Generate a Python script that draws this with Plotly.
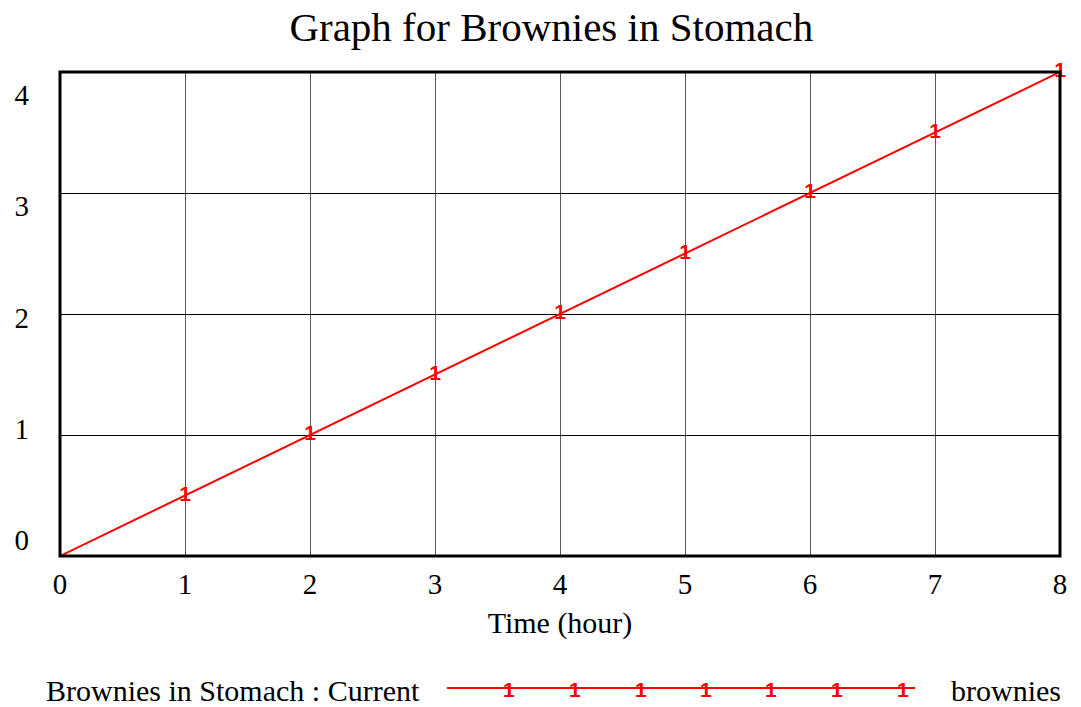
import plotly.graph_objects as go

# Stock values over the simulation run
time_hours = [0, 1, 2, 3, 4, 5, 6, 7, 8]
brownies_current = [0, 0.5, 1, 1.5, 2, 2.5, 3, 3.5, 4]

x_ticks = [0, 1, 2, 3, 4, 5, 6, 7, 8]
y_ticks = [0, 1, 2, 3, 4]

series_name = "Brownies in Stomach : Current"
series_units = "brownies"
marker_label = "1"

SERIF = "Liberation Serif"
SANS = "Liberation Sans"
RED = "#ff0000"

# the series tag is drawn on every point after the starting one
point_tags = [""] + [marker_label] * (len(time_hours) - 1)

fig = go.Figure()

fig.add_trace(go.Scatter(
    x=time_hours,
    y=brownies_current,
    mode="lines+text",
    line=dict(color=RED, width=2),
    text=point_tags,
    textposition="middle center",
    textfont=dict(family=SANS, size=21, color=RED, weight="bold"),
    cliponaxis=False,
    hoverinfo="x+y",
    showlegend=False,
))

# invisible companion trace carrying the offset value labels on the left
fig.add_trace(go.Scatter(
    x=time_hours,
    y=brownies_current,
    yaxis="y2",
    mode="lines",
    line=dict(width=0),
    opacity=0,
    hoverinfo="skip",
    showlegend=False,
))

fig.update_layout(
    width=1081,
    height=707,
    margin=dict(l=60, r=21, t=72, b=151),
    paper_bgcolor="white",
    plot_bgcolor="white",
    font=dict(family=SERIF, color="black"),
    title=dict(
        text="Graph for Brownies in Stomach",
        x=0.51, xanchor="center",
        y=0.962, yanchor="middle",
        font=dict(family=SERIF, size=41, color="black"),
    ),
    xaxis=dict(
        range=[0, 8],
        tickvals=x_ticks,
        ticktext=[str(v) for v in x_ticks],
        tickfont=dict(family=SERIF, size=29, color="black"),
        showgrid=True,
        gridcolor="#5a5a5a",
        gridwidth=1,
        zeroline=False,
        showline=False,
        ticks="",
        ticklabelstandoff=8,
        title=dict(text="Time (hour)", font=dict(family=SERIF, size=30, color="black"), standoff=12),
    ),
    yaxis=dict(
        range=[0, 4],
        tickvals=y_ticks,
        showticklabels=False,
        showgrid=True,
        gridcolor="#000000",
        gridwidth=1,
        zeroline=False,
        showline=False,
        ticks="",
    ),
    yaxis2=dict(
        overlaying="y",
        side="left",
        range=[-0.1438, 4.2067],
        tickvals=y_ticks,
        ticktext=[str(v) for v in y_ticks],
        tickfont=dict(family=SERIF, size=29, color="black"),
        showgrid=False,
        zeroline=False,
        showline=False,
        ticks="",
        ticklabelstandoff=30,
    ),
    shapes=[
        dict(type="rect", xref="paper", yref="paper", x0=0, x1=1, y0=0, y1=1,
             line=dict(color="black", width=3), fillcolor="rgba(0,0,0,0)", layer="above"),
        dict(type="line", xref="paper", yref="paper", x0=0.387, x1=0.855, y0=-0.2727, y1=-0.2727,
             line=dict(color=RED, width=2)),
    ],
)

# custom legend row underneath the axis title
annotations = [
    dict(text=series_name, xref="paper", yref="paper", x=-0.016, y=-0.2769,
         xanchor="left", yanchor="middle", showarrow=False,
         font=dict(family=SERIF, size=30, color="black")),
    dict(text=series_units, xref="paper", yref="paper", x=0.889, y=-0.2769,
         xanchor="left", yanchor="middle", showarrow=False,
         font=dict(family=SERIF, size=30, color="black")),
]
for px in [509, 575, 641, 706, 771, 837, 903]:
    annotations.append(dict(
        text=marker_label, xref="paper", yref="paper", x=(px - 60) / 1000, y=-0.2765,
        xanchor="center", yanchor="middle", showarrow=False,
        font=dict(family=SANS, size=21, color=RED, weight="bold")))
fig.update_layout(annotations=annotations)

fig.write_html("out.html")
